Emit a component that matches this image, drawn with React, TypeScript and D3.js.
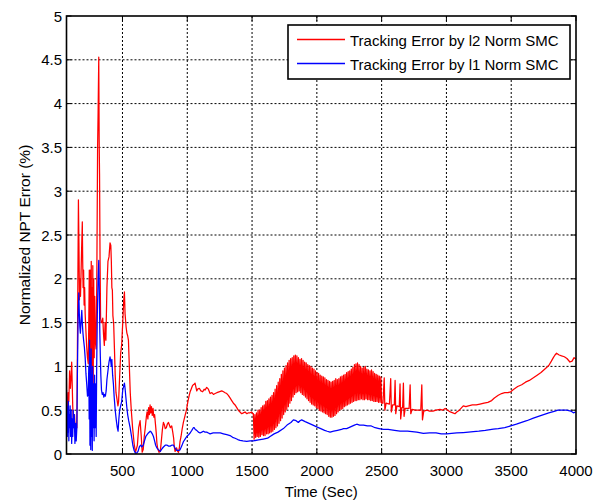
import React from 'react';
import * as d3 from 'd3';

type P = [number, number];

const xTicks = [500, 1000, 1500, 2000, 2500, 3000, 3500, 4000];
const yTicks = [0, 0.5, 1, 1.5, 2, 2.5, 3, 3.5, 4, 4.5, 5];
const xLabel = 'Time (Sec)';
const yLabel = 'Normalized NPT Error (%)';
const seriesNames = ['Tracking Error by l2 Norm SMC', 'Tracking Error by l1 Norm SMC'];
const seriesColors = ['#ff0000', '#0000ff'];

const redEarly: P[] = [
  [68, 0.87], [70, 0.55], [75, 0.43], [80, 0.7], [86, 0.6], [92, 0.95], [98, 0.75], [104, 0.9],
  [108, 1.05], [112, 0.8], [116, 0.55], [120, 0.4], [125, 0.3], [130, 0.45], [136, 0.25], [142, 0.35],
  [148, 0.3], [155, 1.8], [160, 2.9], [164, 2.4], [168, 1.76], [172, 2.0], [176, 1.8], [184, 2.3],
  [190, 2.65], [193, 2.2], [196, 1.9], [200, 2.1], [204, 1.7], [208, 1.9], [212, 1.6], [218, 1.4],
  [224, 1.22], [230, 1.1], [236, 1.03], [240, 1.5], [244, 2.1], [248, 0.6], [252, 2.1], [256, 0.4],
  [259, 2.2], [262, 0.3], [265, 1.9], [268, 0.5], [271, 2.15], [274, 0.8], [278, 2.0], [282, 1.1],
  [286, 1.8], [290, 1.3], [296, 1.2], [302, 2.0], [308, 3.5], [312, 3.9], [317, 4.53], [320, 3.6],
  [323, 3.2], [327, 2.2], [331, 1.55], [336, 1.5], [342, 1.5], [348, 1.55], [354, 1.36], [360, 1.24],
  [366, 1.5], [372, 1.3], [380, 1.9], [388, 2.2], [396, 2.25], [404, 2.41], [410, 2.38], [414, 2.2],
  [418, 1.9], [422, 1.87], [426, 1.58], [432, 1.49], [438, 1.2], [444, 0.9], [450, 0.7], [458, 0.62],
  [465, 0.55], [470, 0.6], [478, 0.88], [486, 1.15], [494, 1.25], [502, 1.5], [510, 1.76], [515, 1.85],
  [520, 1.6], [528, 1.45], [534, 1.38], [540, 1.35], [546, 1.3], [552, 1.04], [560, 0.7], [568, 0.5],
  [578, 0.3], [590, 0.12], [600, 0.02], [606, 0.05], [615, 0.1], [625, 0.3], [636, 0.38], [645, 0.2],
  [652, 0.02], [660, 0.05], [668, 0.2], [676, 0.3], [684, 0.42], [690, 0.48], [696, 0.4], [702, 0.53],
  [708, 0.45], [713, 0.56], [718, 0.47], [724, 0.54], [730, 0.44], [736, 0.52], [742, 0.42], [748, 0.45],
  [754, 0.35], [760, 0.25], [766, 0.12], [772, 0.06], [782, 0.02], [792, 0.03], [800, 0.15], [808, 0.28],
  [816, 0.36], [824, 0.33], [830, 0.29], [838, 0.3], [846, 0.34], [855, 0.36], [862, 0.33], [870, 0.3],
  [880, 0.32], [888, 0.25], [895, 0.18], [900, 0.08], [906, 0.03], [912, 0.05], [918, 0.07], [925, 0.03],
  [932, 0.02], [938, 0.06], [944, 0.14], [952, 0.2], [960, 0.28], [970, 0.36], [980, 0.42], [990, 0.48],
  [996, 0.52], [1005, 0.6], [1015, 0.67], [1022, 0.71], [1030, 0.74], [1040, 0.78], [1047, 0.79], [1055, 0.8],
  [1060, 0.81], [1066, 0.77], [1073, 0.72], [1080, 0.74], [1093, 0.75], [1105, 0.72], [1119, 0.71], [1130, 0.74],
  [1137, 0.73], [1150, 0.76], [1163, 0.74], [1176, 0.69], [1190, 0.7], [1202, 0.68], [1215, 0.69], [1228, 0.7],
  [1245, 0.71], [1266, 0.72], [1280, 0.71], [1292, 0.7], [1305, 0.69], [1317, 0.67], [1330, 0.64], [1343, 0.61],
  [1356, 0.58], [1369, 0.56], [1382, 0.53], [1394, 0.5], [1407, 0.48], [1420, 0.46], [1433, 0.47], [1446, 0.48],
  [1460, 0.46], [1472, 0.47], [1485, 0.47], [1497, 0.48], [1505, 0.46],
];

// oscillation cycles: [time, crest, trough]
const redOscCycles: [number, number, number][] = [
  [1510, 0.46, 0.17], [1522, 0.45, 0.19], [1534, 0.47, 0.2], [1546, 0.5, 0.19], [1558, 0.5, 0.2],
  [1570, 0.53, 0.22], [1582, 0.55, 0.21], [1594, 0.56, 0.21], [1606, 0.6, 0.23], [1618, 0.61, 0.23],
  [1630, 0.63, 0.24], [1642, 0.65, 0.25], [1654, 0.67, 0.26], [1666, 0.7, 0.28], [1678, 0.74, 0.3],
  [1690, 0.78, 0.32], [1702, 0.82, 0.35], [1714, 0.86, 0.38], [1726, 0.91, 0.41], [1738, 0.95, 0.45],
  [1750, 0.98, 0.48], [1762, 1.01, 0.51], [1774, 1.04, 0.54], [1786, 1.07, 0.58], [1798, 1.09, 0.61],
  [1810, 1.1, 0.65], [1822, 1.12, 0.68], [1834, 1.13, 0.7], [1846, 1.12, 0.71], [1858, 1.1, 0.72],
  [1870, 1.08, 0.7], [1882, 1.09, 0.68], [1894, 1.07, 0.67], [1906, 1.05, 0.65], [1918, 1.04, 0.63],
  [1930, 1.02, 0.61], [1942, 1.01, 0.59], [1954, 1.0, 0.57], [1966, 0.98, 0.56], [1978, 0.97, 0.55],
  [1990, 0.95, 0.53], [2002, 0.93, 0.52], [2014, 0.92, 0.5], [2026, 0.9, 0.49], [2038, 0.89, 0.48],
  [2050, 0.88, 0.47], [2062, 0.87, 0.46], [2074, 0.85, 0.45], [2086, 0.84, 0.43], [2098, 0.83, 0.42],
  [2110, 0.82, 0.42], [2122, 0.83, 0.43], [2134, 0.84, 0.44], [2146, 0.86, 0.46], [2158, 0.85, 0.48],
  [2170, 0.86, 0.5], [2182, 0.88, 0.51], [2194, 0.89, 0.52], [2206, 0.9, 0.54], [2218, 0.91, 0.55],
  [2230, 0.93, 0.56], [2242, 0.94, 0.57], [2254, 0.95, 0.58], [2266, 0.97, 0.59], [2278, 0.99, 0.6],
  [2290, 1.02, 0.61], [2302, 1.03, 0.61], [2314, 1.04, 0.62], [2326, 1.02, 0.62], [2338, 1.0, 0.63],
  [2350, 0.98, 0.62], [2362, 0.99, 0.62], [2374, 1.0, 0.63], [2386, 0.97, 0.62], [2398, 0.96, 0.62],
  [2410, 0.95, 0.61], [2422, 0.96, 0.61], [2434, 0.94, 0.6], [2446, 0.92, 0.6], [2458, 0.91, 0.6],
  [2470, 0.9, 0.59], [2482, 0.89, 0.59], [2494, 0.88, 0.58],
];

const redSpikes: P[] = [
  [2510, 0.58], [2520, 0.87], [2525, 0.5], [2535, 0.58], [2560, 0.57], [2570, 0.86], [2575, 0.48], [2585, 0.56],
  [2598, 0.56], [2604, 0.84], [2609, 0.46], [2618, 0.55], [2636, 0.54], [2642, 0.8], [2647, 0.4], [2656, 0.53],
  [2662, 0.53], [2668, 0.81], [2673, 0.43], [2682, 0.52], [2712, 0.52], [2720, 0.79], [2725, 0.46], [2735, 0.51],
  [2760, 0.5], [2775, 0.5], [2802, 0.5], [2810, 0.79], [2815, 0.39], [2825, 0.49], [2850, 0.5],
];

const redLate: P[] = [
  [2870, 0.49], [2897, 0.49], [2920, 0.5], [2950, 0.51], [2970, 0.5], [2990, 0.52], [3010, 0.5], [3030, 0.48],
  [3050, 0.47], [3066, 0.46], [3080, 0.48], [3100, 0.5], [3130, 0.55], [3150, 0.54], [3170, 0.55], [3200, 0.56],
  [3230, 0.56], [3259, 0.57], [3290, 0.58], [3320, 0.59], [3349, 0.61], [3370, 0.64], [3400, 0.67], [3426, 0.69],
  [3450, 0.7], [3475, 0.7], [3496, 0.71], [3520, 0.74], [3550, 0.77], [3581, 0.79], [3610, 0.82], [3640, 0.84],
  [3671, 0.87], [3700, 0.9], [3730, 0.93], [3760, 0.97], [3790, 1.01], [3810, 1.06], [3825, 1.1], [3838, 1.13],
  [3850, 1.15], [3870, 1.13], [3889, 1.12], [3910, 1.11], [3930, 1.09], [3953, 1.05], [3970, 1.06], [3985, 1.1],
  [4000, 1.08],
];

const blueSeries: P[] = [
  [68, 0.73], [70, 0.35], [72, 0.55], [74, 0.2], [77, 0.5], [80, 0.25], [83, 0.6], [86, 0.15], [89, 0.45],
  [92, 0.3], [96, 0.55], [100, 0.2], [104, 0.5], [108, 0.12], [112, 0.4], [116, 0.2], [120, 0.5], [124, 0.3],
  [128, 0.45], [133, 0.12], [138, 0.35], [143, 0.15], [148, 0.3], [152, 0.9], [158, 1.6], [163, 1.84],
  [167, 1.6], [171, 1.45], [175, 1.38], [180, 1.5], [186, 1.64], [190, 1.5], [195, 1.38], [200, 1.3],
  [206, 1.22], [212, 1.1], [218, 0.92], [224, 0.8], [230, 0.66], [236, 0.7], [240, 1.0], [243, 0.4],
  [246, 1.3], [249, 0.1], [252, 1.1], [255, 0.05], [258, 1.2], [261, 0.2], [264, 0.9], [267, 0.04],
  [270, 1.0], [273, 0.3], [277, 0.8], [281, 0.15], [285, 0.9], [289, 0.3], [293, 0.8], [297, 0.2],
  [301, 1.0], [306, 1.6], [312, 2.0], [317, 2.21], [321, 1.9], [325, 1.4], [329, 1.12], [333, 0.9],
  [338, 0.73], [344, 0.68], [350, 0.7], [356, 0.65], [362, 0.68], [368, 0.66], [374, 0.72], [380, 0.85],
  [388, 0.95], [396, 1.05], [404, 1.11], [410, 1.05], [414, 1.0], [418, 1.08], [424, 0.9], [430, 0.8],
  [436, 0.65], [444, 0.5], [452, 0.39], [460, 0.3], [466, 0.26], [472, 0.4], [478, 0.5], [486, 0.55],
  [494, 0.6], [502, 0.73], [510, 0.78], [515, 0.81], [520, 0.75], [526, 0.65], [533, 0.54], [540, 0.45],
  [548, 0.38], [559, 0.3], [570, 0.2], [580, 0.1], [590, 0.04], [600, 0.01], [610, 0.01], [620, 0.03],
  [630, 0.08], [640, 0.1], [650, 0.08], [660, 0.1], [670, 0.15], [680, 0.2], [690, 0.22], [700, 0.24],
  [714, 0.26], [722, 0.25], [730, 0.23], [739, 0.2], [748, 0.15], [756, 0.1], [765, 0.07], [777, 0.05],
  [792, 0.03], [805, 0.06], [816, 0.08], [830, 0.1], [845, 0.1], [856, 0.09], [868, 0.09], [880, 0.1],
  [894, 0.1], [905, 0.07], [919, 0.04], [935, 0.04], [945, 0.05], [957, 0.09], [970, 0.14], [983, 0.17],
  [996, 0.2], [1010, 0.22], [1022, 0.24], [1035, 0.27], [1047, 0.3], [1053, 0.3], [1062, 0.28], [1073, 0.27],
  [1086, 0.25], [1099, 0.24], [1112, 0.25], [1124, 0.26], [1137, 0.25], [1150, 0.25], [1163, 0.24], [1176, 0.23],
  [1200, 0.24], [1228, 0.24], [1255, 0.24], [1279, 0.23], [1305, 0.22], [1330, 0.21], [1350, 0.19], [1369, 0.18],
  [1390, 0.165], [1407, 0.155], [1430, 0.15], [1459, 0.145], [1485, 0.15], [1510, 0.15], [1550, 0.16], [1587, 0.17],
  [1620, 0.18], [1639, 0.2], [1670, 0.23], [1700, 0.25], [1742, 0.29], [1770, 0.33], [1800, 0.36], [1819, 0.39],
  [1840, 0.38], [1857, 0.36], [1870, 0.38], [1883, 0.39], [1910, 0.37], [1940, 0.35], [1970, 0.33], [1999, 0.31],
  [2030, 0.29], [2060, 0.27], [2080, 0.26], [2102, 0.25], [2130, 0.26], [2160, 0.27], [2190, 0.28], [2205, 0.29],
  [2230, 0.29], [2260, 0.31], [2290, 0.33], [2308, 0.34], [2330, 0.33], [2360, 0.33], [2390, 0.32], [2420, 0.32],
  [2450, 0.3], [2480, 0.29], [2513, 0.28], [2550, 0.28], [2600, 0.27], [2642, 0.26], [2700, 0.26], [2771, 0.25],
  [2822, 0.235], [2870, 0.24], [2920, 0.24], [2960, 0.23], [3002, 0.23], [3040, 0.235], [3080, 0.24], [3130, 0.245],
  [3170, 0.25], [3208, 0.255], [3250, 0.26], [3300, 0.27], [3362, 0.285], [3400, 0.29], [3450, 0.3], [3496, 0.32],
  [3540, 0.34], [3580, 0.36], [3620, 0.38], [3671, 0.41], [3710, 0.43], [3750, 0.45], [3790, 0.47], [3838, 0.49],
  [3860, 0.5], [3890, 0.5], [3928, 0.5], [3960, 0.49], [3980, 0.47], [4000, 0.48],
];

const redOscillation: P[] = redOscCycles.flatMap(([t, hi, lo]) => [[t, hi], [t + 6, lo]] as P[]);
const redSeries: P[] = [...redEarly, ...redOscillation, ...redSpikes, ...redLate];

const FONT = "'Liberation Sans', Arial, Helvetica, sans-serif";

export default function App() {
  const W = 598;
  const H = 502;
  const L = 66.5, R = 576, T = 16, B = 454;
  const x = d3.scaleLinear().domain([68, 4000]).range([L, R]);
  const y = d3.scaleLinear().domain([0, 5]).range([B, T]);
  const line = d3.line<P>().x((d) => x(d[0])).y((d) => y(d[1]));

  const legX = 288, legY = 25, legW = 282, legH = 54;

  return (
    <svg
      width={W}
      height={H}
      style={{ position: 'absolute', left: 0, top: 0, background: '#fff' }}
      fontFamily={FONT}
    >
      <rect x={0} y={0} width={W} height={H} fill="#fff" />
      <defs>
        <clipPath id="plotclip">
          <rect x={L} y={T} width={R - L} height={B - T} />
        </clipPath>
      </defs>
      {xTicks.filter((t) => x(t) < R - 1).map((t) => (
        <line key={'gx' + t} x1={x(t)} x2={x(t)} y1={T} y2={B} stroke="#000" strokeWidth={1} strokeDasharray="2,2" />
      ))}
      {yTicks.filter((t) => y(t) > T + 1 && y(t) < B - 1).map((t) => (
        <line key={'gy' + t} x1={L} x2={R} y1={y(t)} y2={y(t)} stroke="#000" strokeWidth={1} strokeDasharray="2,2" />
      ))}
      {xTicks.map((t) => (
        <g key={'tx' + t}>
          <line x1={x(t)} x2={x(t)} y1={B} y2={B - 5} stroke="#000" strokeWidth={1} />
          <line x1={x(t)} x2={x(t)} y1={T} y2={T + 5} stroke="#000" strokeWidth={1} />
          <text x={x(t)} y={476} fontSize={15} textAnchor="middle" fill="#000">{t}</text>
        </g>
      ))}
      {yTicks.map((t) => (
        <g key={'ty' + t}>
          <line x1={L} x2={L + 5} y1={y(t)} y2={y(t)} stroke="#000" strokeWidth={1} />
          <line x1={R} x2={R - 5} y1={y(t)} y2={y(t)} stroke="#000" strokeWidth={1} />
          <text x={62} y={y(t) + 5.5} fontSize={15} textAnchor="end" fill="#000">{t}</text>
        </g>
      ))}
      <g clipPath="url(#plotclip)">
        <path d={line(redSeries) || ''} fill="none" stroke={seriesColors[0]} strokeWidth={1.25} strokeLinejoin="round" />
        <path d={line(blueSeries) || ''} fill="none" stroke={seriesColors[1]} strokeWidth={1.25} strokeLinejoin="round" />
      </g>
      <rect x={L} y={T} width={R - L} height={B - T} fill="none" stroke="#000" strokeWidth={1.6} />
      <text x={(L + R) / 2} y={497} fontSize={15} textAnchor="middle" fill="#000">{xLabel}</text>
      <text transform={`translate(30, ${(T + B) / 2}) rotate(-90)`} fontSize={15.5} textAnchor="middle" fill="#000">{yLabel}</text>
      <rect x={legX} y={legY} width={legW} height={legH} fill="#fff" stroke="#000" strokeWidth={1.6} />
      {seriesNames.map((name, i) => (
        <g key={name}>
          <line x1={297} x2={345} y1={39.5 + i * 24} y2={39.5 + i * 24} stroke={seriesColors[i]} strokeWidth={1.3} />
          <text x={350} y={46 + i * 24} fontSize={15} fill="#000">{name}</text>
        </g>
      ))}
    </svg>
  );
}
